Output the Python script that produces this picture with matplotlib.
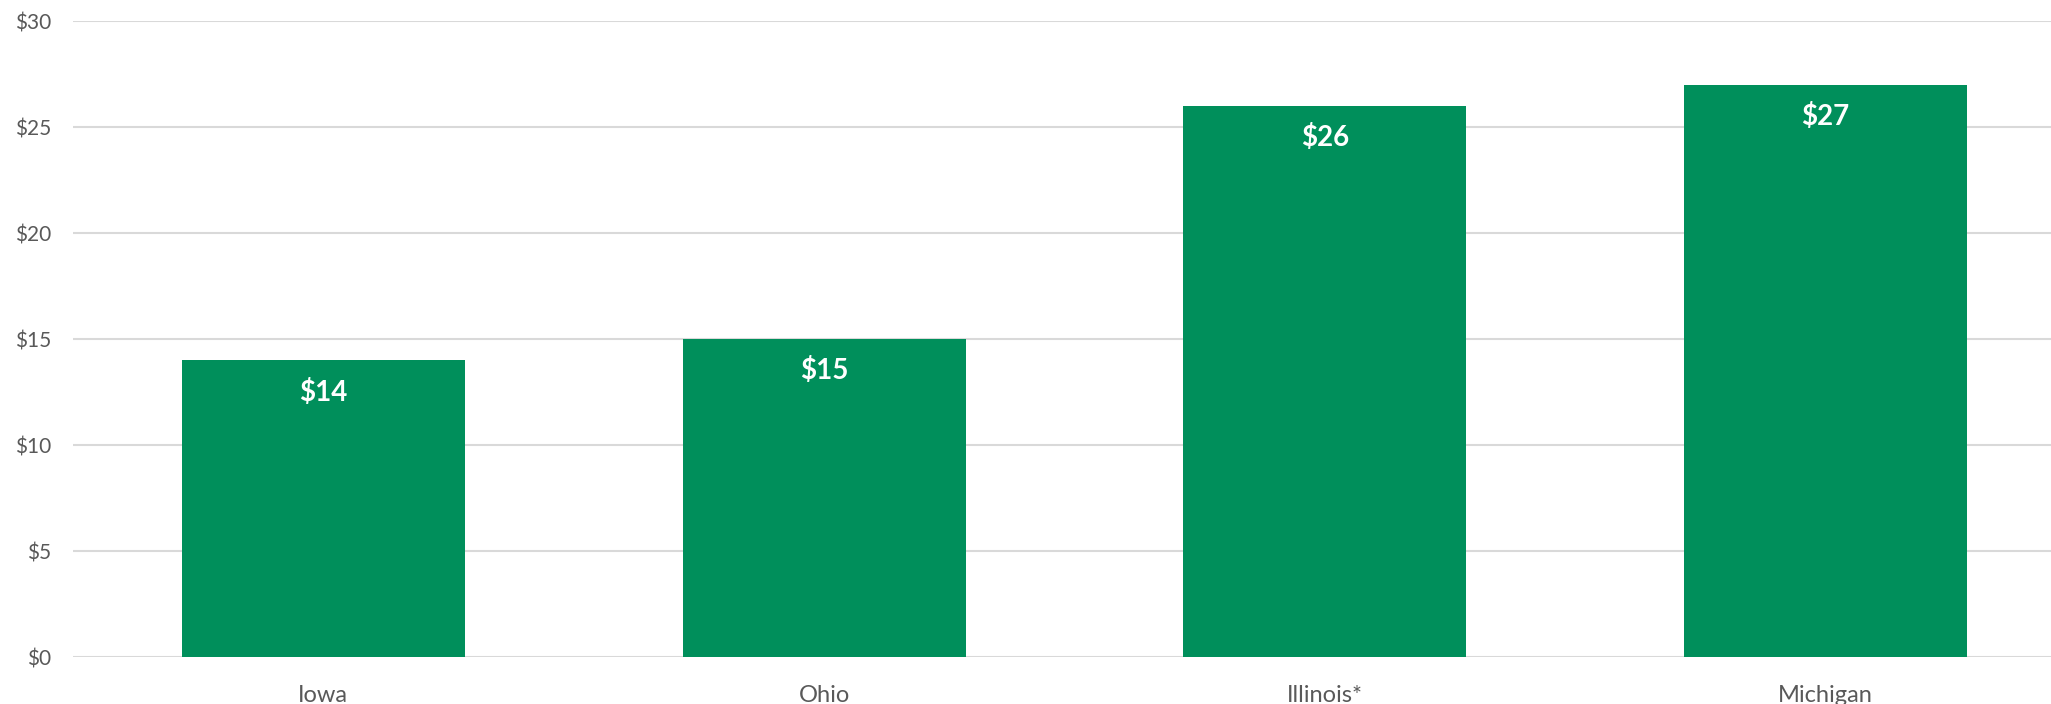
import matplotlib
matplotlib.use("Agg")
import matplotlib.pyplot as plt

# chart values
states = ["Iowa", "Ohio", "Illinois*", "Michigan"]
costs = [14, 15, 26, 27]
y_ticks = [0, 5, 10, 15, 20, 25, 30]

bar_color = "#008F5B"
grid_color = "#D9D9D9"
text_color = "#595959"

plt.rcParams['font.family'] = ['Lato', 'DejaVu Sans']

W, H, dpi = 2051, 704, 100
fig = plt.figure(figsize=(W / dpi, H / dpi), dpi=dpi)
# plot area runs past the right edge of the image, like the source
left, right, bottom, top = 73, 2076, 704 - 657, 704 - 21
ax = fig.add_axes([left / W, bottom / H, (right - left) / W, (top - bottom) / H])

x = range(len(states))
bars = ax.bar(x, costs, width=0.565, color=bar_color, zorder=3)

ax.set_xlim(-0.5, len(states) - 0.5)
ax.set_ylim(0, 30)
ax.set_yticks(y_ticks)
ax.set_yticklabels(["$%d" % v for v in y_ticks])
ax.set_xticks(list(x))
ax.set_xticklabels(states)

ax.grid(axis="y", color=grid_color, linewidth=1.5, zorder=0)
for s in ax.spines.values():
    s.set_visible(False)
ax.tick_params(axis="both", length=0, colors=text_color)
ax.tick_params(axis="y", labelsize=15, pad=16)
ax.tick_params(axis="x", labelsize=17, pad=20)

for b, v in zip(bars, costs):
    ax.annotate("$%d" % v, (b.get_x() + b.get_width() / 2, v),
                xytext=(0, -23), textcoords="offset points",
                ha="center", va="center", color="white",
                fontsize=20, fontweight="bold")

fig.savefig("out.png", dpi=dpi)
